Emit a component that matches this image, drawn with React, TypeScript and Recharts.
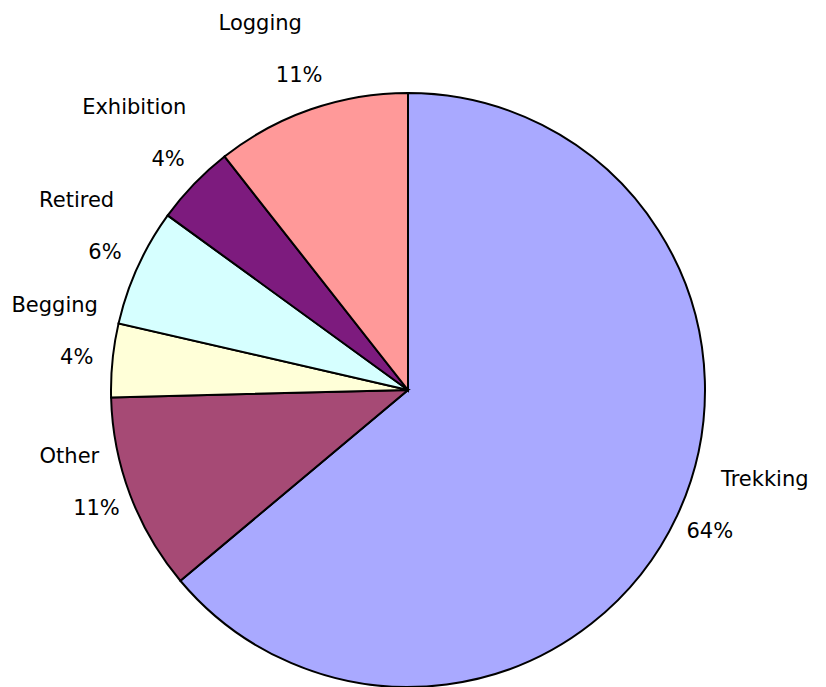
import React from "react";
import { PieChart, Pie, Cell } from "recharts";

const categories = ["Trekking", "Other", "Begging", "Retired", "Exhibition", "Logging"];
const shares = [63.9, 10.7, 4.0, 6.4, 4.4, 10.6];
const colors = ["#A9A9FF", "#A64A75", "#FFFFD8", "#D6FFFF", "#7D1B7E", "#FF9999"];

const data = categories.map((name, i) => ({ name, value: shares[i] }));

const RADIAN = Math.PI / 180;

const renderLabel = (props: any) => {
  const { cx, cy, midAngle, outerRadius, percent, name } = props;
  const r = outerRadius + 36;
  const cos = Math.cos(-midAngle * RADIAN);
  const sin = Math.sin(-midAngle * RADIAN);
  const px = cx + r * cos;
  const py = cy + r * sin;
  // name sits above the percentage, nudged outward (more on the right side)
  const nudge = cos >= 0 ? 55 : -(20 + 20 * Math.abs(sin));
  return (
    <g>
      <text
        x={px + nudge}
        y={py - 45}
        textAnchor="middle"
        fill="#000"
        fontSize={21}
        fontFamily="DejaVu Sans"
      >
        {name}
      </text>
      <text
        x={px}
        y={py + 7}
        textAnchor="middle"
        fill="#000"
        fontSize={21}
        fontFamily="DejaVu Sans"
      >
        {`${Math.round(percent * 100)}%`}
      </text>
    </g>
  );
};

const App = () => {
  return (
    <PieChart width={810} height={679}>
      <Pie
        data={data}
        dataKey="value"
        nameKey="name"
        cx={395}
        cy={377}
        outerRadius={297}
        startAngle={90}
        endAngle={-270}
        stroke="#000"
        strokeWidth={2}
        label={renderLabel}
        labelLine={false}
        isAnimationActive={false}
      >
        {data.map((d, i) => (
          <Cell key={d.name} fill={colors[i]} />
        ))}
      </Pie>
    </PieChart>
  );
};

export default App;
